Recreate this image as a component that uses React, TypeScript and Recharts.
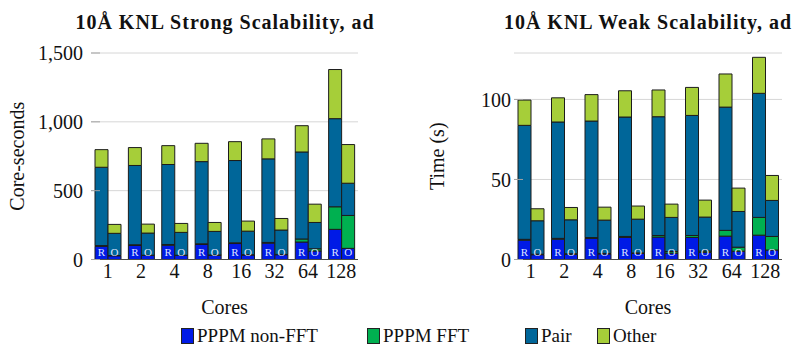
import { BarChart, Bar, XAxis, YAxis, CartesianGrid, LabelList } from "recharts";

const cores = ["1", "2", "4", "8", "16", "32", "64", "128"];
const series = ["PPPM non-FFT", "PPPM FFT", "Pair", "Other"];
const runs = ["R", "O"];

// strong scaling, core-seconds (R bar, O bar)
const strongNonFftR = [96, 102, 104, 109, 116, 119, 127, 219];
const strongFftR = [5, 5, 5, 5, 5, 5, 22, 164];
const strongPairR = [569, 576, 581, 597, 598, 607, 632, 640];
const strongOtherR = [128, 130, 137, 133, 137, 145, 191, 357];
const strongNonFftO = [27, 29, 29, 31, 33, 35, 62, 81];
const strongFftO = [2, 2, 2, 2, 2, 2, 16, 239];
const strongPairO = [161, 161, 166, 171, 171, 177, 191, 234];
const strongOtherO = [65, 65, 65, 65, 73, 84, 133, 281];

// weak scaling, seconds
const weakNonFftR = [12.1, 12.7, 13.2, 13.8, 14, 13.8, 14.6, 15.2];
const weakFftR = [0.5, 0.5, 0.5, 0.6, 1, 1.2, 3.6, 11.1];
const weakPairR = [71.2, 72.7, 72.8, 74.6, 74.2, 75, 77, 77.5];
const weakOtherR = [15.8, 15.1, 16.5, 16.4, 16.7, 17.5, 20.7, 22.5];
const weakNonFftO = [3, 3.3, 3.5, 3.8, 4, 4.5, 5.2, 5.9];
const weakFftO = [0.3, 0.3, 0.3, 0.3, 1, 0.8, 2.5, 8.5];
const weakPairO = [20.9, 21.2, 20.8, 21.1, 21.3, 21.2, 22.3, 22.5];
const weakOtherO = [7.5, 7.7, 8.1, 8.2, 8.3, 10.6, 14.6, 15.6];

const strongTicks = [0, 500, 1000, 1500];
const weakTicks = [0, 50, 100];

const colors = ["#001ae6", "#00b050", "#006699", "#a6ce39"];
const FONT = '"Liberation Serif", "Times New Roman", serif';

const CHART_H = 345;
const PLOT_TOP = 53;
const X_AXIS_H = 50;
const MARGIN_BOTTOM = 35.5;
const PLOT_BOTTOM = CHART_H - MARGIN_BOTTOM - X_AXIS_H;

function makeRows(r: number[][], o: number[][]) {
  return cores.map((core, i) => {
    const row: Record<string, string | number> = { core };
    r.forEach((arr, k) => (row[`R${k}`] = arr[i]));
    o.forEach((arr, k) => (row[`O${k}`] = arr[i]));
    return row;
  });
}

const strongRows = makeRows(
  [strongNonFftR, strongFftR, strongPairR, strongOtherR],
  [strongNonFftO, strongFftO, strongPairO, strongOtherO]
);
const weakRows = makeRows(
  [weakNonFftR, weakFftR, weakPairR, weakOtherR],
  [weakNonFftO, weakFftO, weakPairO, weakOtherO]
);

const tickStyle = { fill: "#111", fontSize: 20, fontFamily: FONT };

function ScalingChart(props: any) {
  const { rows, domain, ticks, width, axisWidth, right, labelMargin, yLabel, yLabelX, format } = props;
  return (
    <BarChart
      width={width}
      height={CHART_H}
      data={rows}
      margin={{ top: PLOT_TOP, right, bottom: MARGIN_BOTTOM, left: 0 }}
      barSize={13}
      barGap={0}
    >
      <CartesianGrid vertical={false} stroke="#d6d6d6" />
      <XAxis
        dataKey="core"
        height={X_AXIS_H}
        interval={0}
        axisLine={{ stroke: "#4a4a4a" }}
        tickLine={false}
        tickSize={0}
        tickMargin={4}
        tick={tickStyle}
        label={(p: any) => {
          const vb = p.viewBox;
          return (
            <text x={vb.x + vb.width / 2} y={PLOT_BOTTOM + 54} textAnchor="middle" fontSize={20} fontFamily={FONT} fill="#111">
              Cores
            </text>
          );
        }}
      />
      {/* inward tick marks along the top edge */}
      <XAxis
        xAxisId="top"
        dataKey="core"
        orientation="top"
        height={0}
        interval={0}
        axisLine={false}
        tick={false}
        tickSize={-9}
        tickLine={{ stroke: "#a3a3a3" }}
      />
      <YAxis
        type="number"
        domain={domain}
        ticks={ticks}
        width={axisWidth}
        axisLine={false}
        tickSize={-9}
        tickMargin={labelMargin}
        tickLine={{ stroke: "#a3a3a3" }}
        tickFormatter={format}
        tick={tickStyle}
        label={(p: any) => {
          const vb = p.viewBox;
          const x = vb.x + yLabelX;
          const y = vb.y + vb.height / 2;
          return (
            <text x={x} y={y} transform={`rotate(-90 ${x} ${y})`} textAnchor="middle" dominantBaseline="central" fontSize={20} fontFamily={FONT} fill="#111">
              {yLabel}
            </text>
          );
        }}
      />
      {/* inward tick marks on the right edge */}
      <YAxis
        yAxisId="inner"
        orientation="right"
        type="number"
        domain={domain}
        ticks={ticks}
        width={0}
        axisLine={false}
        tick={false}
        tickSize={-9}
        tickLine={{ stroke: "#a3a3a3" }}
      />
      {runs.flatMap((run) =>
        series.map((name, k) => (
          <Bar
            key={`${run}${k}`}
            dataKey={`${run}${k}`}
            name={name}
            stackId={run}
            fill={colors[k]}
            stroke="#1c1c1c"
            strokeWidth={1}
            isAnimationActive={false}
          >
            {k === series.length - 1 && (
              <LabelList
                content={(p: any) => {
                  const vb = p.viewBox ?? p;
                  return (
                    <text
                      x={vb.x + vb.width / 2}
                      y={PLOT_BOTTOM - 4}
                      textAnchor="middle"
                      fontSize={11}
                      fontFamily={FONT}
                      fill="#dfe3ff"
                    >
                      {run}
                    </text>
                  );
                }}
              />
            )}
          </Bar>
        ))
      )}
    </BarChart>
  );
}

const legendLeft = [181, 367, 525, 597];

export default function App() {
  return (
    <div
      style={{
        position: "absolute",
        left: 0,
        top: 0,
        width: 801,
        height: 345,
        overflow: "hidden",
        background: "#fff",
        fontFamily: FONT,
        color: "#111",
      }}
    >
      <div style={{ position: "absolute", left: 0, top: 0 }}>
        <ScalingChart
          rows={strongRows}
          domain={[0, 1500]}
          ticks={strongTicks}
          width={400}
          axisWidth={91}
          right={42}
          labelMargin={17}
          yLabel="Core-seconds"
          yLabelX={17}
          format={(v: number) => v.toLocaleString("en-US")}
        />
      </div>
      <div style={{ position: "absolute", left: 400, top: 0 }}>
        <ScalingChart
          rows={weakRows}
          domain={[0, 129]}
          ticks={weakTicks}
          width={401}
          axisWidth={114}
          right={19}
          labelMargin={12}
          yLabel="Time (s)"
          yLabelX={37}
          format={(v: number) => String(v)}
        />
      </div>
      {["10Å KNL Strong Scalability, ad", "10Å KNL Weak Scalability, ad"].map((t, i) => (
        <div
          key={t}
          style={{
            position: "absolute",
            left: i === 0 ? 25 : 448,
            top: 12,
            width: 400,
            textAlign: "center",
            whiteSpace: "nowrap",
            fontSize: 20,
            lineHeight: "20px",
            fontWeight: "bold",
            letterSpacing: 1,
          }}
        >
          {t}
        </div>
      ))}
      {series.map((name, k) => (
        <div
          key={name}
          style={{
            position: "absolute",
            left: legendLeft[k],
            top: 327,
            height: 17,
            display: "flex",
            alignItems: "center",
            whiteSpace: "nowrap",
            fontSize: 19,
            lineHeight: "17px",
          }}
        >
          <span
            style={{
              display: "inline-block",
              width: 11,
              height: 14,
              background: colors[k],
              border: "1px solid #222",
              marginRight: 3,
            }}
          />
          <span>{name}</span>
        </div>
      ))}
    </div>
  );
}
